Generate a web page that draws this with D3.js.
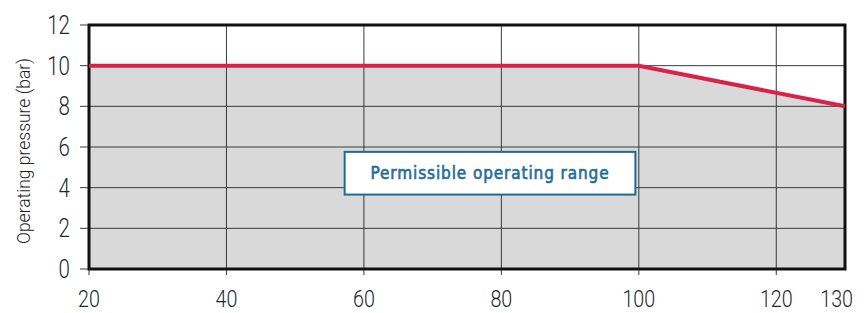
<!DOCTYPE html>
<html>
<head>
<meta charset="utf-8">
<script src="https://cdn.jsdelivr.net/npm/d3@7"></script>
<style>
  body { margin: 0; background: #fff; }
  svg { display: block; }
</style>
</head>
<body>
<div id="chart"></div>
<script>
// ---------------- data ----------------
var temps = [20, 100, 130];
var pressures = [10, 10, 8];
var xTicks = [20, 40, 60, 80, 100, 120, 130];
var yTicks = [0, 2, 4, 6, 8, 10, 12];
var areaLabel = "Permissible operating range";
var yTitle = "Operating pressure (bar)";

// ---------------- canvas ----------------
var svgWidth = 867, svgHeight = 313;
var margin = {left: 89, right: 22, top: 25, bottom: 44};
var width = svgWidth - margin.left - margin.right,
    height = svgHeight - margin.top - margin.bottom;

var svg = d3.select("#chart").append("svg")
  .attr("width", svgWidth)
  .attr("height", svgHeight);

var g = svg.append("g")
  .attr("transform", `translate(${margin.left}, ${margin.top})`);

var x = d3.scaleLinear().domain([20, 130]).range([0, width]);
var y = d3.scaleLinear().domain([0, 12]).range([height, 0]);

var pts = temps.map((t, i) => ({t: t, p: pressures[i]}));

// grey area under the limit
g.append("path")
  .datum(pts)
  .attr("fill", "#d9d9d9")
  .attr("d", d3.area().x(d => x(d.t)).y0(y(0)).y1(d => y(d.p)));

// grid
g.selectAll(".vgrid")
  .data(xTicks.filter(d => d > 20 && d < 130))
  .enter().append("line")
  .attr("x1", d => x(d)).attr("x2", d => x(d))
  .attr("y1", 0).attr("y2", height + 6)
  .attr("stroke", "#3a3a3a").attr("stroke-width", 1);

g.selectAll(".hgrid")
  .data(yTicks.filter(d => d > 0 && d < 12))
  .enter().append("line")
  .attr("x1", -9).attr("x2", width)
  .attr("y1", d => y(d)).attr("y2", d => y(d))
  .attr("stroke", "#3a3a3a").attr("stroke-width", 1);

// tick stubs at the edges
g.append("line").attr("x1", -9).attr("x2", 0).attr("y1", y(12)).attr("y2", y(12)).attr("stroke", "#3a3a3a");
g.append("line").attr("x1", -9).attr("x2", 0).attr("y1", y(0)).attr("y2", y(0)).attr("stroke", "#3a3a3a");
g.append("line").attr("x1", x(20)).attr("x2", x(20)).attr("y1", height).attr("y2", height + 6).attr("stroke", "#3a3a3a");

// frame
g.append("rect")
  .attr("x", 0).attr("y", 0)
  .attr("width", width).attr("height", height)
  .attr("fill", "none")
  .attr("stroke", "#111").attr("stroke-width", 3);

// limit line
g.append("path")
  .datum(pts)
  .attr("fill", "none")
  .attr("stroke", "#da2247")
  .attr("stroke-width", 4)
  .attr("d", d3.line().x(d => x(d.t)).y(d => y(d.p)));

// tick labels (light font squeezed horizontally)
var sx = 0.82;
g.selectAll(".ylab")
  .data(yTicks)
  .enter().append("text")
  .attr("transform", d => `translate(-19, ${y(d) + 9}) scale(${sx}, 1)`)
  .attr("text-anchor", "end")
  .style("font-family", "Roboto, sans-serif")
  .style("font-weight", 300)
  .style("font-size", "25px")
  .style("fill", "#1d2733")
  .text(d => d);

g.selectAll(".xlab")
  .data(xTicks)
  .enter().append("text")
  .attr("transform", d => `translate(${x(d) + (d === 130 ? 8 : 0)}, ${height + 38}) scale(${sx}, 1)`)
  .attr("text-anchor", d => d === 130 ? "end" : "middle")
  .style("font-family", "Roboto, sans-serif")
  .style("font-weight", 300)
  .style("font-size", "24px")
  .style("fill", "#1d2733")
  .text(d => d);

// y axis title
svg.append("text")
  .attr("transform", `translate(30, 151) rotate(-90)`)
  .attr("text-anchor", "middle")
  .style("font-family", "Roboto, sans-serif")
  .style("font-weight", 300)
  .style("font-size", "17.5px")
  .style("fill", "#222")
  .text(yTitle);

// label box
var bx = x(57.2), bw = x(99.5) - x(57.2), by = y(5.76), bh = y(3.66) - y(5.76);
g.append("rect")
  .attr("x", bx).attr("y", by)
  .attr("width", bw).attr("height", bh)
  .attr("fill", "#fff")
  .attr("stroke", "#1a6d98").attr("stroke-width", 2);

g.append("text")
  .attr("x", bx + bw / 2)
  .attr("y", by + bh / 2 + 6)
  .attr("text-anchor", "middle")
  .style("font-family", "'DejaVu Sans Condensed', 'Liberation Sans Narrow', sans-serif")
  .style("font-size", "17px")
  .style("letter-spacing", "0.9px")
  .style("fill", "#1f6e9a")
  .style("stroke", "#1f6e9a")
  .style("stroke-width", "0.6px")
  .text(areaLabel);
</script>
</body>
</html>
